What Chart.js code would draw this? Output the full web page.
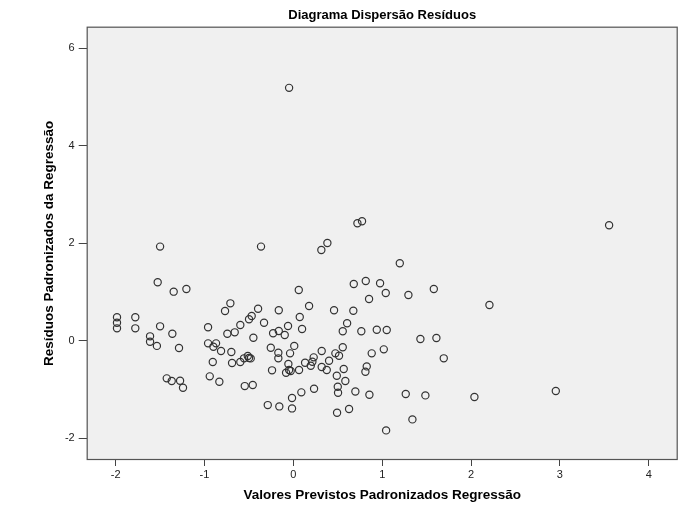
<!DOCTYPE html>
<html>
<head>
<meta charset="utf-8">
<script src="https://cdn.jsdelivr.net/npm/chart.js@4/dist/chart.umd.min.js"></script>
<style>
  html, body { margin: 0; padding: 0; background: #ffffff; }
  #wrap { width: 691px; height: 513px; }
</style>
</head>
<body>
<div id="wrap"><canvas id="c" width="691" height="513"></canvas></div>
<script>
// Standardized predicted values (x) and standardized residuals (y), one entry per case
const predicted = [
  -0.048, 3.554, 0.721, 0.773, 0.383, 0.315, -1.50, -0.364, 1.198, -1.527,
  -1.347, -1.204, 0.680, 0.815, 0.976, 1.040, 1.295, 1.581, 0.852, 0.061,
  -0.709, -0.769, -0.397, -0.164, -0.469, -0.499, -0.330, -0.597, -0.060, -1.985,
  -1.985, -1.985, -1.779, -1.779, -1.50, -1.362, -0.960, -0.743, -0.660, -0.228,
  -0.164, -0.097, -0.450, -1.613, -1.613, -1.536, -1.287, -0.960, -0.870, -0.900,
  -0.814, -0.698, -0.907, -0.690, -0.597, -0.555, -0.513, -0.499, -0.480, -0.254,
  -0.169, -0.169, -0.037, 0.010, -0.056, -0.048, -0.030, -0.082, -0.240, -0.941,
  -0.833, -1.425, -1.369, -1.275, -1.242, -0.547, -0.457, -0.288, -0.158, -0.015,
  -0.015, 0.177, 0.458, 0.675, 0.072, 0.098, 0.605, 0.556, 0.765, 0.939,
  1.051, 1.430, 1.610, 0.556, 1.693, 2.038, 0.064, 0.132, 0.196, 0.214,
  0.229, 0.319, 0.319, 0.376, 0.402, 0.473, 0.514, 0.567, 0.489, 0.585,
  0.500, 0.503, 0.698, 0.856, 0.882, 1.018, 0.826, 0.811, 1.265, 1.486,
  1.340, 1.044, 0.233, 0.090, 0.492, 0.627, 2.207, 2.954
];
const residuals = [
  5.186, 2.368, 2.409, 2.450, 2.005, 1.861, 1.930, 1.930, 1.588, 1.200,
  1.006, 1.061, 1.164, 1.225, 1.178, 0.979, 0.938, 1.061, 0.856, 1.040,
  0.767, 0.609, 0.657, 0.624, 0.507, 0.439, 0.369, 0.322, 0.302, 0.480,
  0.369, 0.254, 0.480, 0.254, 0.295, 0.144, 0.275, 0.144, 0.172, 0.152,
  0.199, 0.117, 0.062, 0.090, -0.020, -0.106, -0.150, -0.054, -0.054, -0.123,
  -0.211, -0.232, -0.437, -0.458, -0.437, -0.361, -0.314, -0.355, -0.362, -0.144,
  -0.246, -0.361, -0.259, -0.106, -0.478, -0.600, -0.620, -0.657, -0.607, -0.731,
  -0.841, -0.772, -0.827, -0.821, -0.964, -0.930, -0.909, -1.320, -1.347, -1.176,
  -1.388, 0.712, 0.624, 0.616, 0.486, 0.240, 0.357, 0.193, 0.193, 0.226,
  0.220, 0.035, 0.055, -0.135, -0.361, -1.155, -0.601, -0.451, -0.513, -0.431,
  -0.341, -0.211, -0.540, -0.601, -0.410, -0.259, -0.308, -0.581, -0.718, -0.827,
  -0.944, -1.067, -1.040, -1.108, -0.259, -0.177, -0.526, -0.636, -1.094, -1.121,
  -1.613, -1.839, -0.985, -1.059, -1.477, -1.400, 0.733, -1.032
];
const xTicks = [-2, -1, 0, 1, 2, 3, 4];
const yTicks = [-2, 0, 2, 4, 6];

const points = predicted.map((x, i) => ({ x: x, y: residuals[i] }));

// Grey plot panel with a dark frame around it
const panel = {
  id: 'panel',
  beforeDraw(chart) {
    const { ctx, chartArea: a } = chart;
    ctx.save();
    ctx.fillStyle = '#f0f0f0';
    ctx.fillRect(a.left, a.top, a.right - a.left, a.bottom - a.top);
    ctx.restore();
  },
  afterDatasetsDraw(chart) {
    const { ctx, chartArea: a } = chart;
    ctx.save();
    ctx.strokeStyle = '#555555';
    ctx.lineWidth = 1.2;
    ctx.strokeRect(a.left + 0.5, a.top + 0.5, a.right - a.left - 1, a.bottom - a.top - 1);
    ctx.restore();
  }
};

const tickFont = { family: 'Liberation Sans, Arial, sans-serif', size: 11 };
const titleFont = { family: 'Liberation Sans, Arial, sans-serif', size: 13, weight: 'bold' };
const axisTitleFont = { family: 'Liberation Sans, Arial, sans-serif', size: 13.5, weight: 'bold' };

new Chart(document.getElementById('c'), {
  type: 'scatter',
  data: {
    datasets: [{
      data: points,
      pointRadius: 3.6,
      pointHoverRadius: 3.6,
      pointBorderWidth: 1.2,
      pointBorderColor: '#333333',
      pointBackgroundColor: 'rgba(0,0,0,0)'
    }]
  },
  options: {
    responsive: false,
    animation: false,
    layout: { padding: { left: 0, right: 13.3, top: 0, bottom: 0 } },
    plugins: {
      legend: { display: false },
      tooltip: { enabled: false },
      title: {
        display: true,
        fullSize: false,
        text: 'Diagrama Dispersão Resíduos',
        color: '#000000',
        font: titleFont,
        padding: { top: 8, bottom: 3.1 }
      }
    },
    scales: {
      x: {
        type: 'linear',
        min: -2.326,
        max: 4.326,
        afterBuildTicks(scale) { scale.ticks = xTicks.map(v => ({ value: v })); },
        afterFit(scale) { scale.height = 53; },
        border: { display: false },
        grid: {
          drawOnChartArea: false,
          drawTicks: true,
          tickLength: 6,
          color: '#444444',
          lineWidth: 1
        },
        ticks: { color: '#222222', font: tickFont, padding: 2, maxRotation: 0 },
        title: {
          display: true,
          text: 'Valores Previstos Padronizados Regressão',
          color: '#000000',
          font: axisTitleFont,
          padding: { top: 0, bottom: 9.5 }
        }
      },
      y: {
        type: 'linear',
        min: -2.446,
        max: 6.44,
        afterBuildTicks(scale) { scale.ticks = yTicks.map(v => ({ value: v })); },
        afterFit(scale) { scale.width = 86.7; },
        border: { display: false },
        grid: {
          drawOnChartArea: false,
          drawTicks: true,
          tickLength: 8,
          color: '#444444',
          lineWidth: 1
        },
        ticks: { color: '#222222', font: tickFont, padding: 4 },
        title: {
          display: true,
          text: 'Resíduos Padronizados da Regressão',
          color: '#000000',
          font: axisTitleFont,
          padding: { top: 41.5, bottom: 0 }
        }
      }
    }
  },
  plugins: [panel]
});
</script>
</body>
</html>
